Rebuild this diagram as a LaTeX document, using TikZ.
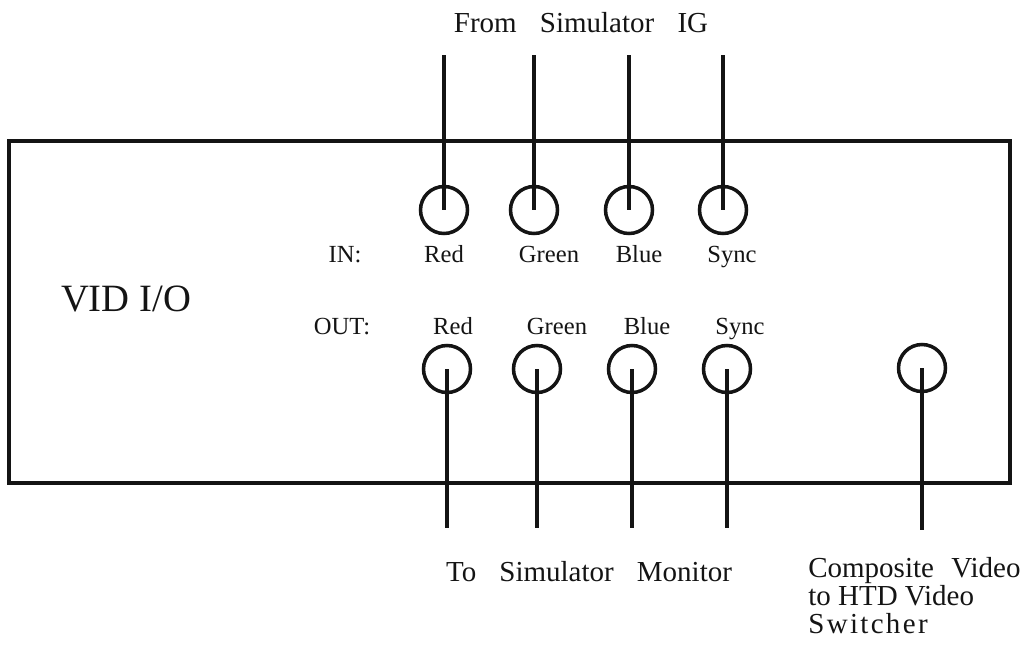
\documentclass[tikz,border=0pt]{standalone}
\usepackage{fontspec}
\setmainfont{Liberation Serif}
\usepackage{tikz}
\usetikzlibrary{positioning}
\definecolor{myink}{RGB}{20,20,20}
\tikzset{
  chassis/.style={rectangle, draw=myink, line width=2pt,
    minimum width=20.02cm, minimum height=6.84cm, inner sep=0pt},
  jack/.style={circle, draw=myink, line width=2pt,
    minimum size=0.94cm, inner sep=0pt},
  wire/.style={line width=2pt, color=myink},
  jacklabel/.style={font=\fontsize{14}{16}\selectfont, inner sep=0pt,
    text=myink, anchor=base},
  caption/.style={font=\fontsize{16.5}{15.9}\selectfont, inner sep=0pt,
    text=myink}
}

\begin{document}
\begin{tikzpicture}[x=0.02cm, y=-0.02cm]
  \useasboundingbox (0,0) rectangle (1031,646);

  % Chassis box and its name
  \node[chassis] (vid) at (509.5,312) {};
  \node[font=\fontsize{22}{26}\selectfont, inner sep=0pt, text=myink] (vidname) at (126,299) {VID I/O};

  % Input jacks
  \node[jack] (inred) at (444,210) {};
  \node[jack] (ingreen) at (534,210) {};
  \node[jack] (inblue) at (629,210) {};
  \node[jack] (insync) at (723,210) {};

  % Output jacks
  \node[jack] (outred) at (447,369) {};
  \node[jack] (outgreen) at (537,369) {};
  \node[jack] (outblue) at (632,369) {};
  \node[jack] (outsync) at (727,369) {};
  \node[jack] (composite) at (922,368) {};

  % Row labels
  \node[jacklabel] (inlbl) at (345,262) {IN:};
  \node[jacklabel] (inredlbl) at (444,262) {Red};
  \node[jacklabel] (ingreenlbl) at (549,262) {Green};
  \node[jacklabel] (inbluelbl) at (639,262) {Blue};
  \node[jacklabel] (insynclbl) at (732,262) {Sync};
  \node[jacklabel] (outlbl) at (342,334) {OUT:};
  \node[jacklabel] (outredlbl) at (453,334) {Red};
  \node[jacklabel] (outgreenlbl) at (557,334) {Green};
  \node[jacklabel] (outbluelbl) at (647,334) {Blue};
  \node[jacklabel] (outsynclbl) at (740,334) {Sync};

  % Cable ends
  \coordinate (inredend) at (444,55);
  \coordinate (ingreenend) at (534,55);
  \coordinate (inblueend) at (629,55);
  \coordinate (insyncend) at (723,55);
  \coordinate (outredend) at (447,528);
  \coordinate (outgreenend) at (537,528);
  \coordinate (outblueend) at (632,528);
  \coordinate (outsyncend) at (727,528);
  \coordinate (compositeend) at (922,530);

  % Cables into and out of the box
  \draw[wire] (inredend) -- (inred.center);
  \draw[wire] (ingreenend) -- (ingreen.center);
  \draw[wire] (inblueend) -- (inblue.center);
  \draw[wire] (insyncend) -- (insync.center);
  \draw[wire] (outred.center) -- (outredend);
  \draw[wire] (outgreen.center) -- (outgreenend);
  \draw[wire] (outblue.center) -- (outblueend);
  \draw[wire] (outsync.center) -- (outsyncend);
  \draw[wire] (composite.center) -- (compositeend);

  % Captions
  \node[caption] (fromig) at (581,23) {From\hspace{0.8em}Simulator\hspace{0.8em}IG};
  \node[caption] (tomonitor) at (589,572) {To\hspace{0.8em}Simulator\hspace{0.8em}Monitor};
  \node[caption, align=left, anchor=north west] (toswitcher) at (808,557)
    {Composite\hspace{0.6em}Video\\to HTD Video\\S\kern0.08em w\kern0.08em i\kern0.08em t\kern0.08em c\kern0.08em h\kern0.08em e\kern0.08em r};
\end{tikzpicture}
\end{document}
